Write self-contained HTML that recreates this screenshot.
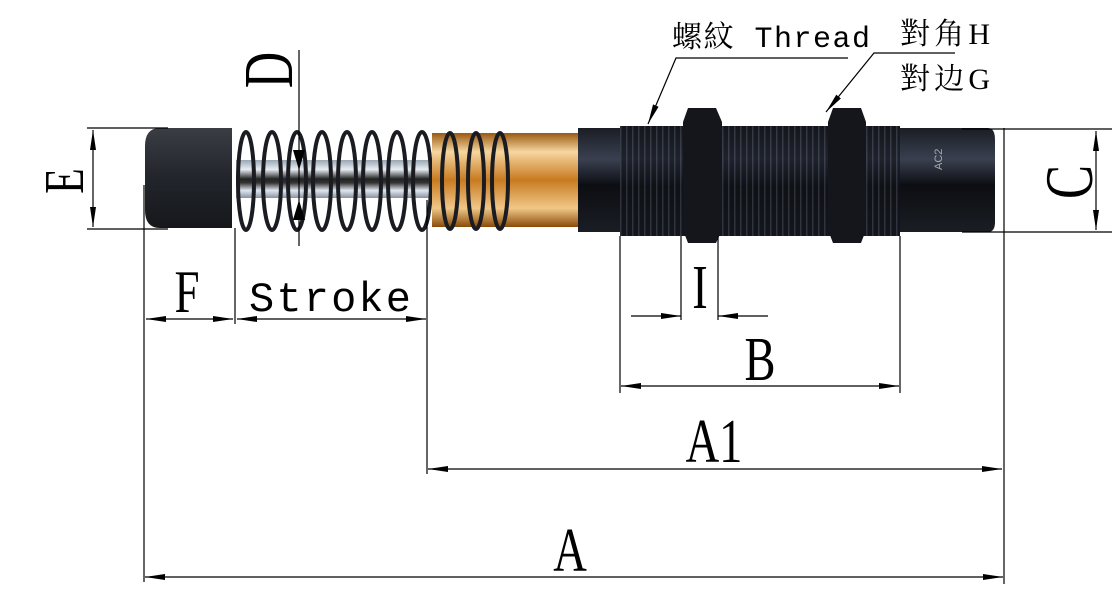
<!DOCTYPE html>
<html><head><meta charset="utf-8"><style>
html,body{margin:0;padding:0;background:#fff;}
svg{display:block}
.t{font-family:"Liberation Serif","Noto Serif CJK SC",serif;fill:#000}
</style></head><body>
<svg width="1120" height="597" viewBox="0 0 1120 597" xmlns="http://www.w3.org/2000/svg">
<defs>
<marker id="ar" viewBox="0 0 20 8" refX="20" refY="4" markerWidth="20" markerHeight="8" markerUnits="userSpaceOnUse" orient="auto-start-reverse"><path d="M0,1 L20,4 L0,7 Z" fill="#000"/></marker>
<linearGradient id="cap" x1="0" y1="0" x2="0" y2="1"><stop offset="0" stop-color="#3a3d44"/><stop offset="0.5" stop-color="#22252b"/><stop offset="1" stop-color="#15171b"/></linearGradient>
<linearGradient id="rod" x1="0" y1="0" x2="0" y2="1"><stop offset="0" stop-color="#9aa6b2"/><stop offset="0.25" stop-color="#e8eef4"/><stop offset="0.5" stop-color="#222"/><stop offset="0.6" stop-color="#333"/><stop offset="0.8" stop-color="#dfe6ee"/><stop offset="1" stop-color="#8892a0"/></linearGradient>
<linearGradient id="brass" x1="0" y1="0" x2="0" y2="1"><stop offset="0" stop-color="#9a5a10"/><stop offset="0.2" stop-color="#f6d6a0"/><stop offset="0.5" stop-color="#c87a20"/><stop offset="0.8" stop-color="#f0c888"/><stop offset="1" stop-color="#8a4a08"/></linearGradient>
<linearGradient id="blk" x1="0" y1="0" x2="0" y2="1"><stop offset="0" stop-color="#1a1d24"/><stop offset="0.3" stop-color="#3a4050"/><stop offset="0.55" stop-color="#0c0e12"/><stop offset="1" stop-color="#1a1d24"/></linearGradient>
<pattern id="thr" width="6" height="120" patternUnits="userSpaceOnUse"><rect width="6" height="120" fill="#101216"/><rect x="2" width="1.5" height="120" fill="#3c4250"/></pattern>
</defs>

<path d="M160,128 L232,128 L232,228 L160,228 Q145,228 145,210 L145,146 Q145,128 160,128Z" fill="url(#cap)"/>
<rect x="236" y="160" width="196" height="38" fill="url(#rod)"/>
<g fill="none" stroke="#1a1c22" stroke-width="4">
<ellipse cx="246" cy="181" rx="8" ry="49"/>
<ellipse cx="272" cy="181" rx="9" ry="49"/>
<ellipse cx="297" cy="181" rx="9" ry="49"/>
<ellipse cx="322" cy="181" rx="9" ry="49"/>
<ellipse cx="347" cy="181" rx="9" ry="49"/>
<ellipse cx="372" cy="181" rx="9" ry="49"/>
<ellipse cx="397" cy="181" rx="9" ry="49"/>
<ellipse cx="422" cy="181" rx="9" ry="49"/>
</g>
<rect x="432" y="133" width="146" height="94" fill="url(#brass)"/>
<g fill="none" stroke="#1a1c22" stroke-width="4">
<ellipse cx="450" cy="181" rx="8" ry="48"/>
<ellipse cx="476" cy="181" rx="8" ry="48"/>
<ellipse cx="500" cy="181" rx="8" ry="48"/>
</g>
<rect x="578" y="128" width="45" height="104" fill="url(#blk)"/>
<rect x="620" y="126" width="280" height="110" fill="url(#thr)"/>
<rect x="620" y="126" width="280" height="110" fill="url(#blk)" opacity="0.35"/>
<path d="M688,108 L716,108 L722,122 L722,230 L716,243 L688,243 L683,230 L683,122Z" fill="#14161b"/>
<path d="M833,108 L861,108 L866,122 L866,230 L861,243 L833,243 L828,230 L828,122Z" fill="#14161b"/>
<path d="M900,128 L988,128 Q995,128 995,140 L995,222 Q995,232 988,232 L900,232Z" fill="url(#blk)"/>
<text x="0" y="0" transform="translate(942,170) rotate(-90)" font-family="Liberation Sans,sans-serif" font-size="11" fill="#aaa">AC2</text>

<g stroke="#000" stroke-width="1.2" fill="none">
<line x1="87" y1="128" x2="168" y2="128"/>
<line x1="87" y1="229" x2="168" y2="229"/>
<line x1="93" y1="130" x2="93" y2="227" marker-start="url(#ar)" marker-end="url(#ar)"/>
<line x1="299" y1="50" x2="299" y2="246"/>
<line x1="144" y1="185" x2="144" y2="582"/>
<line x1="235" y1="228" x2="235" y2="324"/>
<line x1="427" y1="200" x2="427" y2="474"/>
<line x1="146" y1="319" x2="233" y2="319" marker-start="url(#ar)" marker-end="url(#ar)"/>
<line x1="237" y1="319" x2="426" y2="319" marker-start="url(#ar)" marker-end="url(#ar)"/>
<line x1="681" y1="236" x2="681" y2="320"/>
<line x1="718" y1="236" x2="718" y2="320"/>
<line x1="631" y1="316" x2="681" y2="316" marker-end="url(#ar)"/>
<line x1="768" y1="316" x2="718" y2="316" marker-end="url(#ar)"/>
<line x1="620" y1="236" x2="620" y2="393"/>
<line x1="900" y1="236" x2="900" y2="393"/>
<line x1="621" y1="386" x2="899" y2="386" marker-start="url(#ar)" marker-end="url(#ar)"/>
<line x1="428" y1="469" x2="1002" y2="469" marker-start="url(#ar)" marker-end="url(#ar)"/>
<line x1="1004" y1="128" x2="1004" y2="584"/>
<line x1="145" y1="577" x2="1003" y2="577" marker-start="url(#ar)" marker-end="url(#ar)"/>
<line x1="962" y1="129" x2="1112" y2="129"/>
<line x1="962" y1="232" x2="1112" y2="232"/>
<line x1="1096" y1="131" x2="1096" y2="230" marker-start="url(#ar)" marker-end="url(#ar)"/>
<polyline points="848,58 676,58 648,124" marker-end="url(#ar)"/>
<polyline points="955,53 874,53 826,112" marker-end="url(#ar)"/>
</g>
<path d="M293,150 L305,150 L299,170Z M293,220 L305,220 L299,200Z" fill="#000"/>

<g class="t">
<text transform="translate(83,181) rotate(-90) scale(0.75,1)" font-size="56" text-anchor="middle">E</text>
<text transform="translate(292,70) rotate(-90) scale(0.72,1)" font-size="70" text-anchor="middle">D</text>
<text transform="translate(1092,182) rotate(-90) scale(0.75,1)" font-size="68" text-anchor="middle">C</text>
<text transform="translate(187,312) scale(0.75,1)" font-size="60" text-anchor="middle">F</text>
<text x="249" y="311" font-family="Liberation Mono,monospace" font-size="42" textLength="162">Stroke</text>
<text transform="translate(700,308) scale(0.75,1)" font-size="62" text-anchor="middle">I</text>
<text transform="translate(760,380) scale(0.75,1)" font-size="62" text-anchor="middle">B</text>
<text transform="translate(714,462) scale(0.75,1)" font-size="62" text-anchor="middle">A1</text>
<text transform="translate(570,571) scale(0.75,1)" font-size="62" text-anchor="middle">A</text>
<text x="672" y="47" font-size="30" font-family="Liberation Mono,'Noto Serif CJK SC',monospace" textLength="198">螺紋 Thread</text>
<text x="900" y="44" font-size="30" font-family="'Liberation Serif','Noto Serif CJK SC',serif" textLength="90">對角H</text>
<text x="900" y="89" font-size="30" font-family="'Liberation Serif','Noto Serif CJK SC',serif" textLength="90">對边G</text>
</g>
</svg>
</body></html>
